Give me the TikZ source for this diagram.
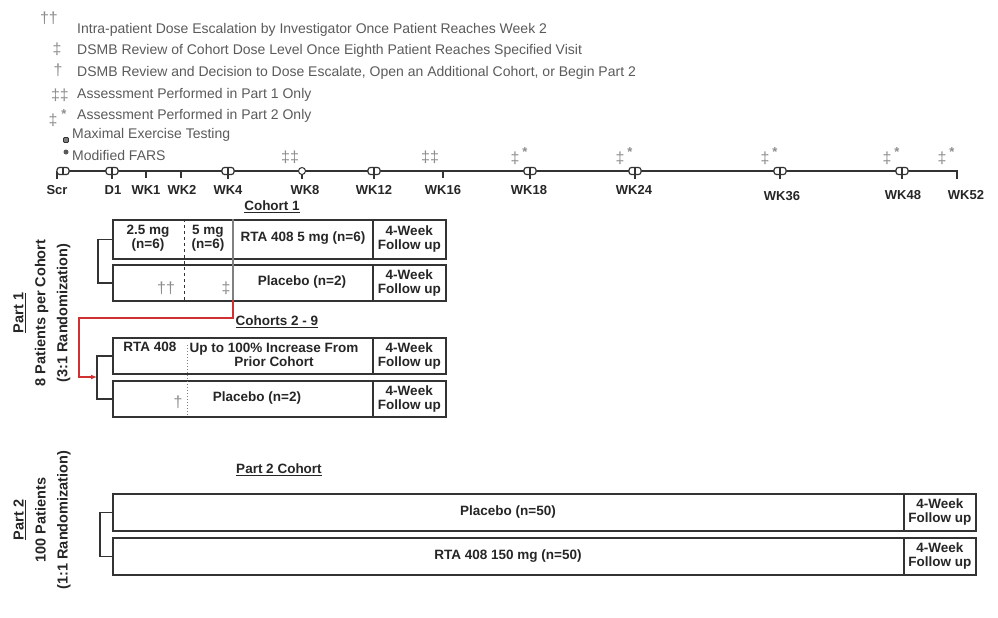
\documentclass[tikz,border=0pt]{standalone}
\usepackage{fontspec}
\setmainfont{Liberation Sans}
\usetikzlibrary{arrows.meta}
\definecolor{boxc}{HTML}{333333}
\definecolor{txtc}{HTML}{262626}
\definecolor{legc}{HTML}{5A5A5A}
\definecolor{symc}{HTML}{8C8C8C}
\definecolor{arrred}{HTML}{D03030}
\begin{document}
\begin{tikzpicture}[x=1pt,y=-1pt,
  arm/.style={draw=boxc, line width=1.5pt, fill=white, inner sep=0pt, anchor=north west},
  btxt/.style={font=\bfseries\fontsize{13.5}{14}\selectfont, text=txtc, align=center, inner sep=0pt},
  fup/.style={arm, minimum width=73pt, font=\bfseries\fontsize{13.5}{14}\selectfont, text=txtc, align=center},
  legtxt/.style={font=\fontsize{14}{16}\selectfont, text=legc, anchor=west, inner sep=0pt},
  sym/.style={font=\fontsize{16}{16}\selectfont, text=symc, inner sep=0pt},
  star/.style={font=\bfseries\fontsize{13}{13}\selectfont, text=symc, inner sep=0pt},
  tlab/.style={font=\bfseries\fontsize{13}{14}\selectfont, text=txtc, inner sep=0pt},
  hdr/.style={font=\bfseries\fontsize{13.5}{14}\selectfont, text=txtc, inner sep=0pt},
  side/.style={font=\bfseries\fontsize{14.5}{22}\selectfont, text=txtc, align=center, rotate=90, inner sep=0pt},
  brk/.style={draw=boxc, line width=1.5pt},
  tline/.style={draw=boxc, line width=2.2pt},
  both/.pic={\draw[boxc, line width=1.2pt] (0,0) -- (0,8);
             \draw[boxc, line width=1.2pt, fill=white, rounded corners=2.5pt] (-6,-3.5) rectangle (6,3.5);
             \draw[boxc, line width=1.2pt] (0,-3.5) -- (0,3.5);},
  scrm/.pic={\draw[boxc, line width=1.2pt] (-6,0) -- (-6,8);
             \draw[boxc, line width=1.2pt, fill=white, rounded corners=2.5pt] (-6,-3.5) rectangle (6,3.5);
             \draw[boxc, line width=1.2pt] (0,-3.5) -- (0,3.5);},
  fars/.pic={\draw[boxc, line width=1.2pt] (0,0) -- (0,8);
             \draw[boxc, line width=1pt, fill=white] (0,0) circle (3.5pt);},
  tk/.pic={\draw[boxc, line width=1.2pt] (0,0) -- (0,7);}
]
\useasboundingbox (0,0) rectangle (998,618);

% ---------- legend ----------
\node[sym] (l1s) at (49,18) {††};
\node[legtxt] (l1) at (77,30) {Intra-patient Dose Escalation by Investigator Once Patient Reaches Week 2};
\node[sym] (l2s) at (57,49) {‡};
\node[legtxt] (l2) at (77,51) {DSMB Review of Cohort Dose Level Once Eighth Patient Reaches Specified Visit};
\node[sym] (l3s) at (58,70) {†};
\node[legtxt] (l3) at (77,73) {DSMB Review and Decision to Dose Escalate, Open an Additional Cohort, or Begin Part 2};
\node[sym] (l4s) at (60,95) {‡‡};
\node[legtxt] (l4) at (77,95) {Assessment Performed in Part 1 Only};
\node[sym] (l5s) at (53,120) {‡};
\node[star] (l5t) at (64,114) {*};
\node[legtxt] (l5) at (77,116) {Assessment Performed in Part 2 Only};
\node[draw=boxc, fill=gray, line width=0.8pt, minimum size=5pt, inner sep=0pt, rounded corners=1pt] (l6s) at (66,140) {};
\node[legtxt] (l6) at (72,135) {Maximal Exercise Testing};
\node[circle, fill=gray!70!black, minimum size=5pt, inner sep=0pt] (l7s) at (66,152) {};
\node[legtxt] (l7) at (72,155) {Modified FARS};

% ---------- timeline ----------
\draw[tline] (68,171) -- (957,171) -- (957,179);
\pic at (63,171) {scrm};
\pic at (112,171) {both};
\pic at (146,171) {tk};
\pic at (181,171) {tk};
\pic at (228,171) {both};
\pic at (302,171) {fars};
\pic at (374,171) {both};
\pic at (443,171) {tk};
\pic at (530,171) {both};
\pic at (635,171) {both};
\pic at (780,171) {both};
\pic at (902,171) {both};

\node[tlab] (wscr) at (57,190) {Scr};
\node[tlab] (wd1) at (113,190) {D1};
\node[tlab] (w1) at (146,190) {WK1};
\node[tlab] (w2) at (182,190) {WK2};
\node[tlab] (w4) at (228,190) {WK4};
\node[tlab] (w8) at (305,190) {WK8};
\node[tlab] (w12) at (374,190) {WK12};
\node[tlab] (w16) at (443,190) {WK16};
\node[tlab] (w18) at (529,190) {WK18};
\node[tlab] (w24) at (634,190) {WK24};
\node[tlab] (w36) at (782,196) {WK36};
\node[tlab] (w48) at (903,195) {WK48};
\node[tlab] (w52) at (966,195) {WK52};

\node[sym] (m8) at (290,157) {‡‡};
\node[sym] (m16) at (430,157) {‡‡};
\foreach \x/\n in {530/a,635/b,780/c,902/d,957/e}{
  \node[sym] (mq\n) at (\x-15,158) {‡};
  \node[star] (ms\n) at (\x-5,152) {*};
}

% ---------- Part 1, Cohort 1 ----------
\node[hdr] (hc1) at (272,207) {\underline{Cohort 1}};
\node[arm, minimum width=260pt, minimum height=39pt] (c1a) at (112,219) {};
\node[fup, minimum height=39pt] (c1af) at (372,219) {4-Week\\Follow up};
\node[arm, minimum width=260pt, minimum height=36pt] (c1b) at (112,264) {};
\node[fup, minimum height=36pt] (c1bf) at (372,264) {4-Week\\Follow up};
\draw[boxc, dashed, line width=0.9pt] (184,219) -- (184,300);
\draw[gray, line width=1.1pt] (233,219) -- (233,300);
\node[btxt] (t25) at (148,238) {2.5 mg\\(n=6)};
\node[btxt] (t5) at (208,238) {5 mg\\(n=6)};
\node[btxt] (trta1) at (303,238) {RTA 408 5 mg (n=6)};
\node[btxt] (tpl1) at (302,282) {Placebo (n=2)};
\node[sym] (s1) at (166,288) {††};
\node[sym] (s2) at (226,288) {‡};
\draw[brk] (c1a.west) -- ++(-14,0) |- (c1b.west);

% ---------- Cohorts 2-9 ----------
\node[hdr] (hc2) at (277,322) {\underline{Cohorts 2 - 9}};
\node[arm, minimum width=260pt, minimum height=36pt] (c2a) at (112,337) {};
\node[fup, minimum height=36pt] (c2af) at (372,337) {4-Week\\Follow up};
\node[arm, minimum width=260pt, minimum height=36pt] (c2b) at (112,380) {};
\node[fup, minimum height=36pt] (c2bf) at (372,380) {4-Week\\Follow up};
\draw[gray, dotted, line width=1pt] (187,345) -- (187,416);
\node[btxt] (trta2) at (150,347) {RTA 408};
\node[btxt] (tup) at (274,355) {Up to 100\% Increase From\\Prior Cohort};
\node[btxt] (tpl2) at (257,398) {Placebo (n=2)};
\node[sym] (s3) at (178,402) {†};
\draw[brk] (c2a.west) -- ++(-15,0) coordinate (b2top) |- (c2b.west);

\coordinate (split) at (233,300);
\draw[arrred, line width=1.2pt, -{Latex[length=6pt,width=5pt]}]
  (split) -- (233,318) -- (79,318) -- (79,377) -- (b2top |- 0,377);

% ---------- Part 2 ----------
\node[hdr] (hp2) at (279,470) {\underline{Part 2 Cohort}};
\node[arm, minimum width=791pt, minimum height=37pt] (p2a) at (112,493) {};
\node[fup, minimum width=72pt, minimum height=37pt] (p2af) at (903,493) {4-Week\\Follow up};
\node[arm, minimum width=791pt, minimum height=37pt] (p2b) at (112,537) {};
\node[fup, minimum width=72pt, minimum height=37pt] (p2bf) at (903,537) {4-Week\\Follow up};
\node[btxt] (tpl3) at (508,512) {Placebo (n=50)};
\node[btxt] (trta3) at (508,556) {RTA 408 150 mg (n=50)};
\draw[brk] (p2a.west) -- ++(-12,0) |- (p2b.west);

% ---------- side labels ----------
\node[side] (pt1) at (42,313) {\underline{Part 1}\\8 Patients per Cohort\\(3:1 Randomization)};
\node[side] (pt2) at (42,520) {\underline{Part 2}\\100 Patients\\(1:1 Randomization)};
\end{tikzpicture}
\end{document}
